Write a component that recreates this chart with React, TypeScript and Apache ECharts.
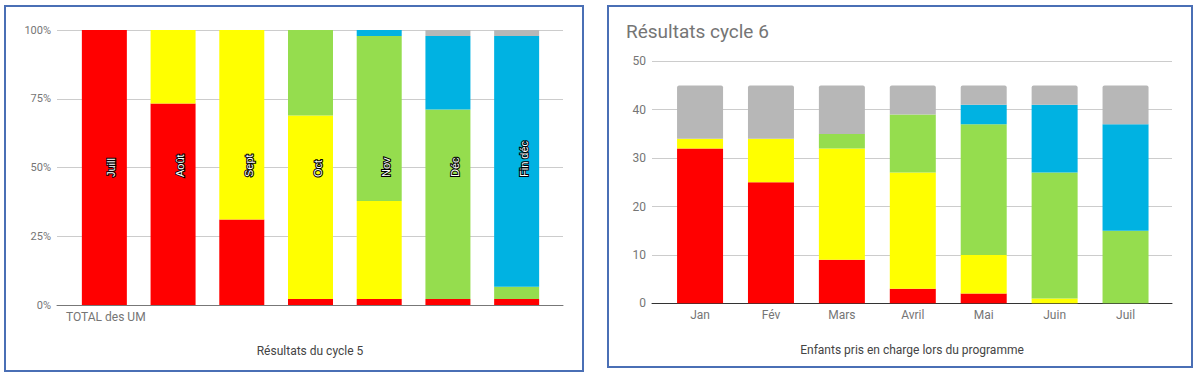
import React, { useEffect, useRef } from "react";
import * as echarts from "echarts";

// ---- Cycle 5 (100% stacked, percentages) ----
const cycle5Categories = ["Juill", "Août", "Sept", "Oct", "Nov", "Déc", "Fin déc"];
const cycle5Red = [100, 73.3, 31.1, 2.2, 2.2, 2.2, 2.2];
const cycle5Yellow = [0, 26.7, 68.9, 66.7, 35.6, 0, 0];
const cycle5Green = [0, 0, 0, 31.1, 60.0, 68.9, 4.4];
const cycle5Blue = [0, 0, 0, 0, 2.2, 26.7, 91.2];
const cycle5Gray = [0, 0, 0, 0, 0, 2.2, 2.2];
const cycle5FirstLabel = "TOTAL des UM";
const cycle5Title = "Résultats du cycle 5";

// ---- Cycle 6 (counts) ----
const cycle6Categories = ["Jan", "Fév", "Mars", "Avril", "Mai", "Juin", "Juil"];
const cycle6Red = [32, 25, 9, 3, 2, 0, 0];
const cycle6Yellow = [2, 9, 23, 24, 8, 1, 0];
const cycle6Green = [0, 0, 3, 12, 27, 26, 15];
const cycle6Blue = [0, 0, 0, 0, 4, 14, 22];
const cycle6Gray = [11, 11, 10, 6, 4, 4, 8];
const cycle6Title = "Résultats cycle 6";
const cycle6AxisTitle = "Enfants pris en charge lors du programme";

const RED = "#ff0000";
const YELLOW = "#ffff00";
const GREEN = "#95dd4e";
const BLUE = "#00b2e2";
const GRAY = "#b7b7b7";
const FONT = "Roboto";

export default function App() {
  const ref = useRef<HTMLDivElement>(null);

  useEffect(() => {
    if (!ref.current) return;
    const chart = echarts.init(ref.current, undefined, { renderer: "svg" });

    const c5 = (name: string, data: number[], color: string) => ({
      name,
      type: "bar",
      xAxisIndex: 1,
      yAxisIndex: 1,
      stack: "c5",
      barWidth: 45,
      data,
      itemStyle: { color },
    });
    const c6 = (name: string, data: number[], color: string, top = false) => ({
      name,
      type: "bar",
      xAxisIndex: 4,
      yAxisIndex: 4,
      stack: "c6",
      barWidth: 46,
      data,
      itemStyle: { color, borderRadius: top ? [2, 2, 0, 0] : 0 },
    });

    chart.setOption({
      animation: false,
      backgroundColor: "#ffffff",
      textStyle: { fontFamily: FONT },
      title: {
        text: cycle6Title,
        left: 626,
        top: 22,
        padding: 0,
        textStyle: { fontSize: 19, fontWeight: "normal", color: "#757575", fontFamily: FONT },
      },
      grid: [
        { left: 57, top: 30, width: 506, height: 275 },
        { left: 70, top: 30, width: 481, height: 275 },
        { left: 77, top: 30, width: 481, height: 275 },
        { left: 652, top: 61.3, width: 520, height: 242 },
        { left: 664.6, top: 61.3, width: 496.4, height: 242 },
      ],
      xAxis: [
        {
          gridIndex: 0,
          type: "value",
          min: 0,
          max: 1,
          axisLine: { show: true, lineStyle: { color: "#777", width: 1 } },
          axisTick: { show: false },
          axisLabel: { show: false },
          splitLine: { show: false },
          name: cycle5Title,
          nameLocation: "middle",
          nameGap: 40,
          nameTextStyle: { color: "#444", fontSize: 12, fontFamily: FONT },
        },
        { gridIndex: 1, type: "category", data: cycle5Categories, show: false },
        {
          gridIndex: 2,
          type: "category",
          data: cycle5Categories,
          axisLine: { show: false },
          axisTick: { show: false },
          axisLabel: {
            inside: true,
            rotate: 90,
            margin: 128,
            interval: 0,
            color: "#ffffff",
            textBorderColor: "#000000",
            textBorderWidth: 2,
            fontSize: 11,
            fontFamily: "Liberation Sans",
          },
          splitLine: { show: false },
          z: 10,
        },
        {
          gridIndex: 3,
          type: "value",
          min: 0,
          max: 1,
          axisLine: { show: true, lineStyle: { color: "#333", width: 1 } },
          axisTick: { show: false },
          axisLabel: { show: false },
          splitLine: { show: false },
          name: cycle6AxisTitle,
          nameLocation: "middle",
          nameGap: 41,
          nameTextStyle: { color: "#444", fontSize: 12, fontFamily: FONT },
        },
        {
          gridIndex: 4,
          type: "category",
          data: cycle6Categories,
          axisLine: { show: false },
          axisTick: { show: false },
          axisLabel: { color: "#757575", fontSize: 12, margin: 6, interval: 0, fontFamily: FONT },
          splitLine: { show: false },
        },
      ],
      yAxis: [
        {
          gridIndex: 0,
          type: "value",
          min: 0,
          max: 100,
          interval: 25,
          axisLine: { show: false },
          axisTick: { show: false },
          axisLabel: { formatter: "{value}%", color: "#757575", fontSize: 11, margin: 6, fontFamily: FONT },
          splitLine: { lineStyle: { color: "#cccccc" } },
        },
        { gridIndex: 1, type: "value", min: 0, max: 100, show: false, splitLine: { show: false } },
        { gridIndex: 2, type: "value", min: 0, max: 100, show: false, splitLine: { show: false } },
        {
          gridIndex: 3,
          type: "value",
          min: 0,
          max: 50,
          interval: 10,
          axisLine: { show: false },
          axisTick: { show: false },
          axisLabel: { color: "#757575", fontSize: 12, margin: 6, fontFamily: FONT },
          splitLine: { lineStyle: { color: "#cccccc" } },
        },
        { gridIndex: 4, type: "value", min: 0, max: 50, show: false, splitLine: { show: false } },
      ],
      series: [
        c5("Rouge", cycle5Red, RED),
        c5("Jaune", cycle5Yellow, YELLOW),
        c5("Vert", cycle5Green, GREEN),
        c5("Bleu", cycle5Blue, BLUE),
        c5("Gris", cycle5Gray, GRAY),
        c6("Rouge", cycle6Red, RED),
        c6("Jaune", cycle6Yellow, YELLOW),
        c6("Vert", cycle6Green, GREEN),
        c6("Bleu", cycle6Blue, BLUE),
        c6("Gris", cycle6Gray, GRAY, true),
      ],
      graphic: [
        {
          type: "rect",
          shape: { x: 5, y: 6, width: 578, height: 365 },
          style: { fill: "none", stroke: "#4a6fb5", lineWidth: 2 },
          z: 100,
        },
        {
          type: "rect",
          shape: { x: 608, y: 6, width: 584, height: 361 },
          style: { fill: "none", stroke: "#4a6fb5", lineWidth: 2 },
          z: 100,
        },
        {
          type: "text",
          x: 66,
          y: 317,
          style: {
            text: cycle5FirstLabel,
            fill: "#757575",
            fontSize: 12,
            fontFamily: FONT,
            textVerticalAlign: "middle",
            textAlign: "left",
          },
        },
      ],
    });

    return () => chart.dispose();
  }, []);

  return (
    <div
      ref={ref}
      style={{ position: "fixed", left: 0, top: 0, width: 1200, height: 378, background: "#fff" }}
    />
  );
}
